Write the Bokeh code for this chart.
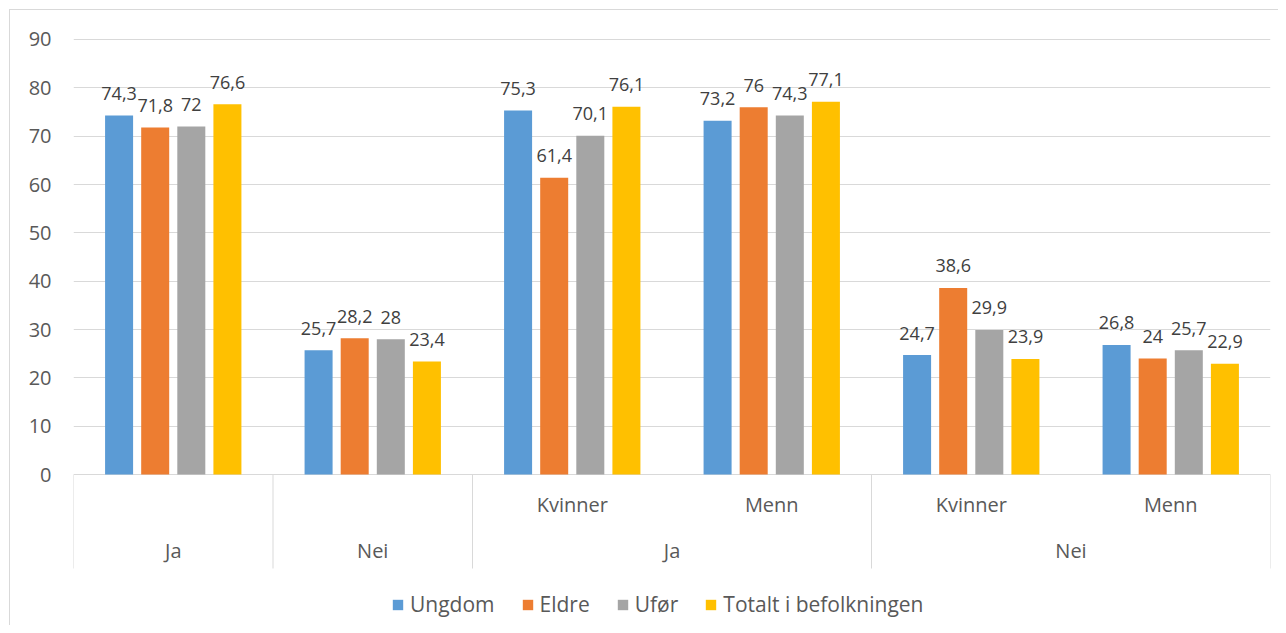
from bokeh.plotting import figure
from bokeh.models import Range1d, FixedTicker, ColumnDataSource, Legend, LegendItem
from bokeh.core.properties import value
from bokeh.embed import file_html
from bokeh.resources import INLINE

# ---------------- data ----------------
categories = [("Ja",), ("Nei",), ("Ja", "Kvinner"), ("Ja", "Menn"), ("Nei", "Kvinner"), ("Nei", "Menn")]
series_names = ["Ungdom", "Eldre", "Ufør", "Totalt i befolkningen"]
ungdom = [74.3, 25.7, 75.3, 73.2, 24.7, 26.8]
eldre = [71.8, 28.2, 61.4, 76.0, 38.6, 24.0]
ufor = [72.0, 28.0, 70.1, 74.3, 29.9, 25.7]
totalt = [76.6, 23.4, 76.1, 77.1, 23.9, 22.9]
y_ticks = [0, 10, 20, 30, 40, 50, 60, 70, 80, 90]

series_values = [ungdom, eldre, ufor, totalt]
colors = ["#5B9BD5", "#ED7D31", "#A5A5A5", "#FFC000"]
offsets = [-0.2715, -0.0905, 0.0905, 0.2715]
bar_w = 0.1404

FONT = value("Open Sans")
AX_COL = "#595959"

p = figure(width=1278, height=625,
           x_range=Range1d(0, len(categories)),
           y_range=Range1d(-31.241, 93.931),
           output_backend="svg", toolbar_location=None,
           x_axis_type=None,
           min_border_left=73, min_border_right=8,
           min_border_top=20, min_border_bottom=0,
           outline_line_color=None,
           border_fill_color=None, background_fill_color=None)
p.styles = {"box-shadow": "inset 9px 9px 0 0 #ffffff, inset 10px 10px 0 0 #d9d9d9"}

ticker = FixedTicker(ticks=y_ticks)
p.yaxis.ticker = ticker
p.yaxis.axis_line_color = None
p.yaxis.major_tick_line_color = None
p.yaxis.minor_tick_line_color = None
p.yaxis.major_tick_out = 0
p.yaxis.major_tick_in = 0
p.yaxis.major_label_standoff = 22
p.yaxis.major_label_text_font = "Open Sans"
p.yaxis.major_label_text_font_size = "20px"
p.yaxis.major_label_text_color = AX_COL
p.ygrid.ticker = ticker
p.ygrid.grid_line_color = "#d9d9d9"
p.ygrid.grid_line_width = 1

def fmt(v):
    return f"{v:g}".replace(".", ",")

legend_items = []
for name, vals, col, off in zip(series_names, series_values, colors, offsets):
    xs = [i + 0.5 + off for i in range(len(categories))]
    src = ColumnDataSource(dict(x=xs, top=vals, lab=[fmt(v) for v in vals]))
    r = p.vbar(x="x", top="top", bottom=0, width=bar_w, source=src,
               fill_color=col, line_color=None)
    p.text(x="x", y="top", text="lab", source=src, text_align="center",
           text_baseline="alphabetic", y_offset=-22,
           text_font=FONT, text_font_size="18px", text_color="#404040")
    legend_items.append(LegendItem(label=name, renderers=[r]))

# ---------------- category axis (two levels) ----------------
lvl1_x, lvl1_t = [], []
for i, c in enumerate(categories):
    if len(c) > 1:
        lvl1_x.append(i + 0.5)
        lvl1_t.append(c[1])
p.text(x=lvl1_x, y=[-6.3] * len(lvl1_x), text=lvl1_t, text_align="center",
       text_baseline="alphabetic", text_font=FONT, text_font_size="20px",
       text_color=AX_COL)

# group consecutive top-level labels
groups = []
for i, c in enumerate(categories):
    key = (c[0], len(c) > 1)
    if groups and groups[-1][0] == key:
        groups[-1][2] = i + 1
    else:
        groups.append([key, i, i + 1])
lvl2_x = [(g[1] + g[2]) / 2 for g in groups]
lvl2_t = [g[0][0] for g in groups]
p.text(x=lvl2_x, y=[-15.75] * len(lvl2_x), text=lvl2_t, text_align="center",
       text_baseline="alphabetic", text_font=FONT, text_font_size="20px",
       text_color=AX_COL)
bounds = sorted(set([g[1] for g in groups] + [g[2] for g in groups]))
p.segment(x0=bounds, y0=[0] * len(bounds), x1=bounds, y1=[-19.45] * len(bounds),
          line_color="#d9d9d9", line_width=1)

legend = Legend(items=legend_items, orientation="horizontal", location=(318, 7),
                border_line_color=None, background_fill_alpha=0,
                padding=0, margin=0, spacing=26, glyph_width=13, glyph_height=13,
                label_standoff=6, label_text_font="Open Sans",
                label_text_font_size="21px", label_text_color=AX_COL)
p.add_layout(legend)

open("out.html", "w").write(file_html(p, INLINE))
